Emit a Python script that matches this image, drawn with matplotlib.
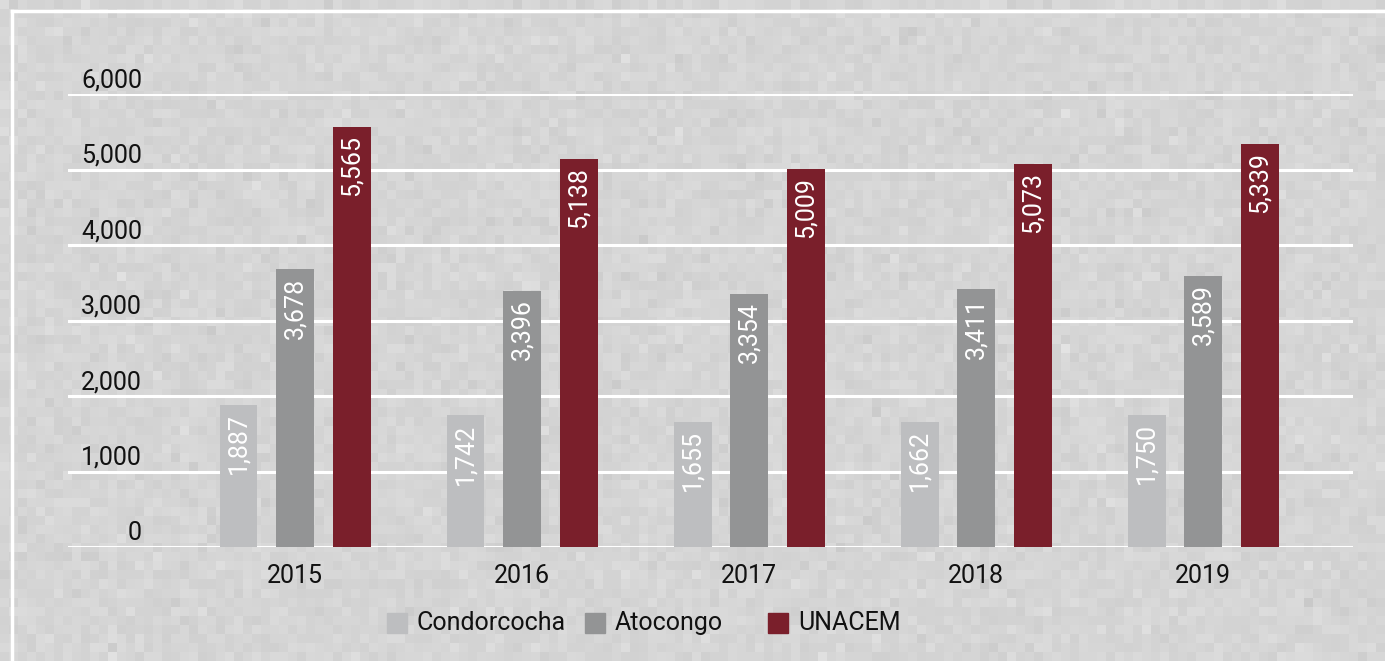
import numpy as np
import matplotlib
matplotlib.use('Agg')
import matplotlib.pyplot as plt
from matplotlib.lines import Line2D
from matplotlib.patches import Rectangle

# data
years = ['2015', '2016', '2017', '2018', '2019']
condorcocha = [1887, 1742, 1655, 1662, 1750]
atocongo = [3678, 3396, 3354, 3411, 3589]
unacem = [5565, 5138, 5009, 5073, 5339]
yticks = [0, 1000, 2000, 3000, 4000, 5000, 6000]

series = [('Condorcocha', condorcocha, '#bdbec0'),
          ('Atocongo', atocongo, '#939495'),
          ('UNACEM', unacem, '#7a1f2b')]

plt.rcParams['font.family'] = ['Roboto', 'DejaVu Sans']

W, H = 1385, 661
fig = plt.figure(figsize=(W / 100, H / 100), dpi=100)

# textured grey background (pixel blocks)
bg = fig.add_axes([0, 0, 1, 1], zorder=-10)
rng = np.random.default_rng(3)
tex = 0.835 + rng.normal(0, 0.013, size=(73, 154))
bg.imshow(tex, cmap='gray', vmin=0, vmax=1, interpolation='nearest',
          aspect='auto', extent=[0, 1, 0, 1])
bg.set_xlim(0, 1)
bg.set_ylim(0, 1)
bg.axis('off')

# white frame (top and left)
fig.add_artist(Line2D([12 / W, 1], [1 - 11 / H] * 2, color='white', lw=2.5,
                      transform=fig.transFigure))
fig.add_artist(Line2D([12 / W] * 2, [0, 1 - 11 / H], color='white', lw=2.5,
                      transform=fig.transFigure))

ax = fig.add_axes([68 / W, 1 - 547 / H, (1353 - 68) / W, (547 - 94) / H])
ax.patch.set_alpha(0)

x = np.arange(len(years))
width = 0.167
offs = [-0.249, 0, 0.249]

for (name, vals, col), off in zip(series, offs):
    bars = ax.bar(x + off, vals, width, color=col, label=name, zorder=3)
    for b, v in zip(bars, vals):
        ax.annotate(f'{v:,}', (b.get_x() + b.get_width() / 2, v),
                    xytext=(0, -6), textcoords='offset points',
                    rotation=90, ha='center', va='top', color='white',
                    fontsize=18, zorder=4)

ax.set_xlim(-1.0, 4.66)
ax.set_ylim(0, 6000)
ax.set_yticks(yticks)
ax.set_yticklabels([])
for t in yticks:
    ax.axhline(t, color='white', lw=2.2, zorder=1)
    ax.text((142 - 68) / (1353 - 68), t + 90, f'{t:,}',
            transform=ax.get_yaxis_transform(), ha='right', va='baseline',
            fontsize=18, color='#111111')

ax.set_xticks(x)
ax.set_xticklabels(years, fontsize=18, color='#111111')
ax.tick_params(axis='x', length=0, pad=12)
ax.tick_params(axis='y', length=0)
for s in ax.spines.values():
    s.set_visible(False)

# legend
leg_x = [387, 585, 768]
for (name, vals, col), lx in zip(series, leg_x):
    fig.add_artist(Rectangle((lx / W, 1 - 633 / H), 20 / W, 20 / H,
                             color=col, transform=fig.transFigure))
    fig.text((lx + 30) / W, 1 - 623 / H, name, fontsize=18,
             color='#111111', ha='left', va='center')

fig.savefig('out.png', dpi=100)
